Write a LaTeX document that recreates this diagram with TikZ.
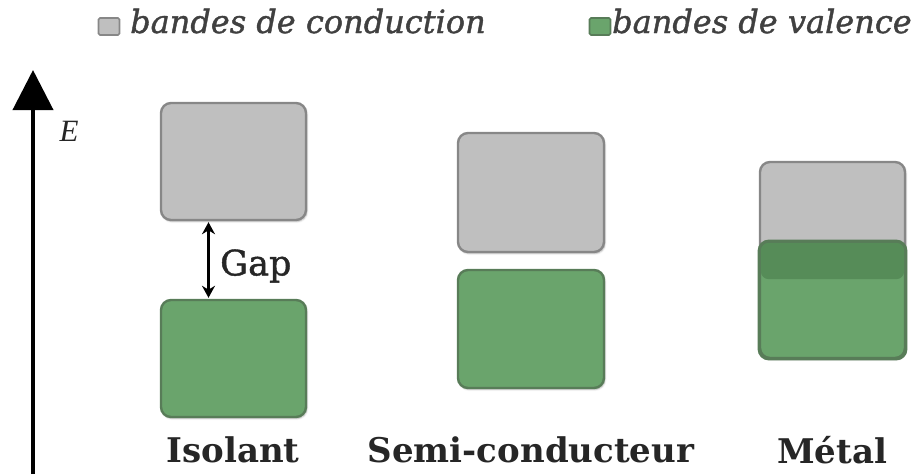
\documentclass[tikz,border=0pt]{standalone}
\usepackage{fontspec}
\newfontfamily\dvs{DejaVu Serif}
\newfontfamily\dvsfb[FakeBold=1.2]{DejaVu Serif}
\newfontfamily\lbs{Liberation Serif}
\usetikzlibrary{arrows.meta,shadows.blur}
\definecolor{cbfill}{RGB}{191,191,191}
\definecolor{cbedge}{RGB}{135,135,135}
\definecolor{vbfill}{RGB}{106,164,108}
\definecolor{vbedge}{RGB}{88,124,88}
\definecolor{vbdark}{RGB}{86,140,88}
\tikzset{
  cband/.style={draw=cbedge,line width=2.4pt,fill=cbfill,rounded corners=10pt,blur shadow={shadow blur steps=5,shadow xshift=1pt,shadow yshift=-1.5pt,shadow opacity=30}},
  vband/.style={draw=vbedge,line width=2.4pt,fill=vbfill,rounded corners=10pt,blur shadow={shadow blur steps=5,shadow xshift=1pt,shadow yshift=-1.5pt,shadow opacity=30}},
  lab/.style={font=\dvs\bfseries\fontsize{34}{38}\selectfont,text=black!85},
  legt/.style={font=\dvsfb\itshape\fontsize{32}{36}\selectfont,text=black!75,anchor=base west,inner sep=0pt},
  legbox/.style={minimum width=21pt,minimum height=17pt,inner sep=0pt,rounded corners=1.5pt,line width=1.6pt},
}
\begin{document}
\begin{tikzpicture}[x=1pt,y=-1pt]
\useasboundingbox (0,0) rectangle (921,474);
% legend
\node[legbox,draw=cbedge,fill=cbfill] (lg1) at (109,26.5) {};
\node[legt] (lt1) at (130,33) {bandes de conduction};
\node[legbox,draw=vbedge,fill=vbfill] (lg2) at (600,26.5) {};
\node[legt] (lt2) at (612,33) {bandes de valence};
% energy axis
\coordinate (ax0) at (33,474);
\coordinate (ax1) at (33,70);
\draw[line width=4pt,-{Triangle[length=40pt,width=40pt]}] (ax0) -- (ax1);
\node[font=\lbs\itshape\fontsize{31}{34}\selectfont,text=black!85] (E) at (69,131) {E};
% Isolant
\node[cband,minimum width=145pt,minimum height=117pt,inner sep=0pt] (ic) at (233.5,161.5) {};
\node[vband,minimum width=145pt,minimum height=117pt,inner sep=0pt] (iv) at (233.5,358.5) {};
\draw[line width=2.4pt,{Stealth[length=12pt,width=13pt]}-{Stealth[length=12pt,width=13pt]}] ([xshift=-25pt,yshift=-1pt]ic.south) -- ([xshift=-25pt,yshift=1pt]iv.north);
\node[font=\dvsfb\fontsize{35}{38}\selectfont,anchor=west,text=black!85,inner sep=0pt] (gap) at (220,266) {Gap};
\node[lab] (il) at (233,450) {Isolant};
% Semi-conducteur
\node[cband,minimum width=146pt,minimum height=119pt,inner sep=0pt] (sc) at (531,192.5) {};
\node[vband,minimum width=146pt,minimum height=118pt,inner sep=0pt] (sv) at (531,329) {};
\node[lab] (sl) at (531,450) {Semi-conducteur};
% Metal
\node[cband,minimum width=145pt,minimum height=118pt,inner sep=0pt] (mc) at (832.5,221) {};
\node[vband,minimum width=145pt,minimum height=116pt,inner sep=0pt] (mv) at (832.5,300) {};
\fill[vbdark,rounded corners=8pt] ([xshift=2pt,yshift=-2pt]mv.north west) rectangle ([xshift=-2pt,yshift=2pt]mc.south east);
\draw[vbedge,line width=2.4pt,rounded corners=10pt] (mv.north west) rectangle (mv.south east);
\node[lab] (ml) at (832,450) {Métal};
\end{tikzpicture}
\end{document}
